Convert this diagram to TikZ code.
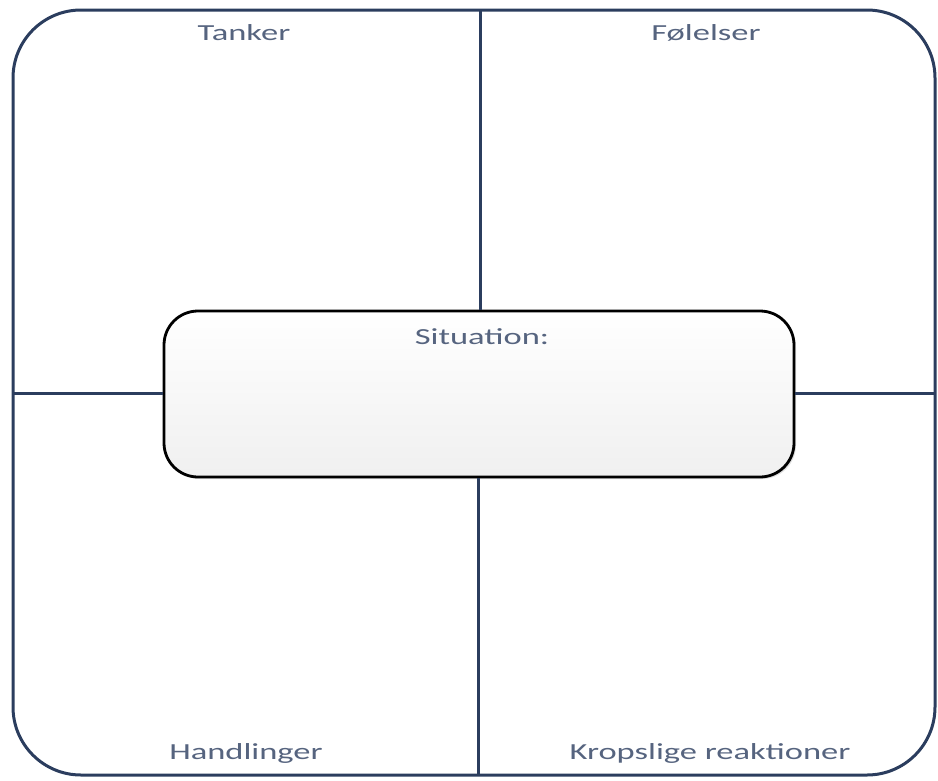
\documentclass[tikz,border=0pt]{standalone}
\usepackage{fontspec}
\setmainfont{Carlito}
\newfontfamily\lblfont[FakeStretch=1.5]{Carlito}
\usetikzlibrary{shadows}
\definecolor{navy}{HTML}{2B3D5E}
\definecolor{lbl}{HTML}{56647F}
\tikzset{
  frame/.style={draw=navy, line width=3pt, rounded corners=68pt, minimum width=922pt, minimum height=765pt, inner sep=0pt},
  divider/.style={draw=navy, line width=3pt},
  sitbox/.style={draw=black, line width=2.8pt, rounded corners=34pt, minimum width=630pt, minimum height=166pt, inner sep=0pt,
    top color=white, bottom color=black!6, drop shadow={shadow xshift=2pt, shadow yshift=-2pt, opacity=0.25}},
  lab/.style={text=lbl, font=\lblfont\fontsize{23}{26}\selectfont, inner sep=0pt}
}
\begin{document}
\begin{tikzpicture}[x=1pt,y=-1pt]
\useasboundingbox (0,0) rectangle (938,780);
\node[frame] (fr) at (474,392.5) {};
\node[sitbox] (sit) at (479,394) {};
\coordinate (vt) at (480,10);
\coordinate (vb) at (478,775);
\coordinate (hl) at (13,393);
\coordinate (hr) at (935,393);
\draw[divider] (vt) -- (vt |- sit.north);
\draw[divider] (vb |- sit.south) -- (vb);
\draw[divider] (hl) -- (hl -| sit.west);
\draw[divider] (sit.east |- hr) -- (hr);
\node[lab] (t1) at (244,33) {Tanker};
\node[lab] (t2) at (706,33) {Følelser};
\node[lab] (t3) at (482,337) {Situation:};
\node[lab] (t4) at (246,753) {Handlinger};
\node[lab] (t5) at (710,753) {Kropslige reaktioner};
\end{tikzpicture}
\end{document}
